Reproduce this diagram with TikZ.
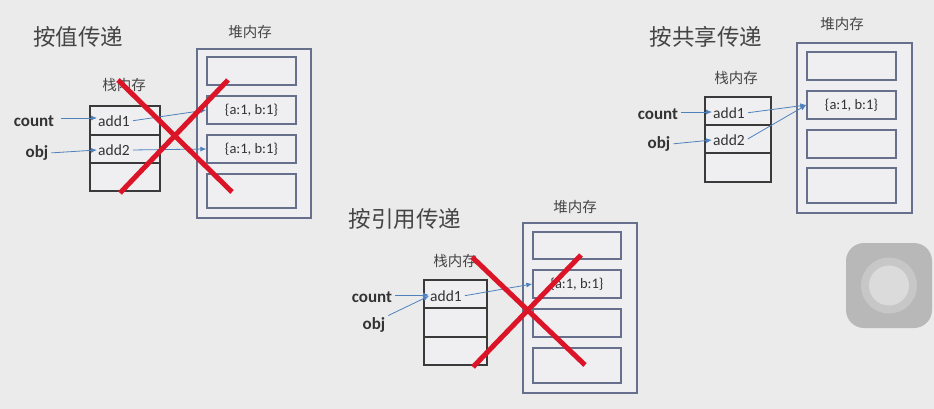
\documentclass[tikz,border=0pt]{standalone}
\usepackage{fontspec}
\setmainfont{Carlito}
\newfontfamily\cjk{Noto Sans CJK SC}
\usetikzlibrary{arrows.meta}
\definecolor{bgc}{HTML}{EBEBEB}
\definecolor{cellc}{HTML}{EFEFF1}
\definecolor{heapc}{HTML}{66708C}
\definecolor{stackc}{HTML}{3A3A3A}
\definecolor{ptrc}{HTML}{4F81BD}
\definecolor{crossc}{HTML}{DC1428}
\definecolor{txtc}{HTML}{333333}
\definecolor{titc}{HTML}{454545}
\tikzset{
  heapouter/.style={draw=heapc, line width=1.5pt, inner sep=0pt, fill=cellc},
  heapcell/.style={draw=heapc, line width=1.3pt, inner sep=0pt, fill=cellc, font=\fontsize{14.5}{16}\selectfont, text=txtc},
  stackcell/.style={draw=stackc, line width=1.3pt, inner sep=0pt, fill=cellc},
  celltxt/.style={anchor=west, inner sep=1pt, font=\fontsize{15.5}{17}\selectfont, text=txtc},
  vartxt/.style={inner sep=1pt, font=\fontsize{17}{19}\selectfont\bfseries, text=txtc},
  titletxt/.style={inner sep=0pt, font=\cjk\fontsize{22.5}{24}\selectfont, text=titc},
  memlbl/.style={inner sep=0pt, font=\cjk\fontsize{14.5}{16}\selectfont, text=titc},
  ptr/.style={-{Latex[length=6pt,width=5pt]}, draw=ptrc, line width=0.8pt, shorten <=2pt},
  crossline/.style={draw=crossc, line width=5pt},
}
\begin{document}
\begin{tikzpicture}[x=1pt,y=-1pt]
\fill[bgc] (0,0) rectangle (934,409);
\useasboundingbox (0,0) rectangle (934,409);

% ---------------- Panel 1: 按值传递 ----------------
\node[titletxt] (title1) at (78,37) {按值传递};
\node[memlbl] (heaplbl1) at (250,32) {堆内存};
\node[heapouter, minimum width=114pt, minimum height=169pt] (heap1) at (254,133.5) {};
\node[heapcell, minimum width=89pt, minimum height=28pt] (h1a) at (251.5,71) {};
\node[heapcell, minimum width=89pt, minimum height=28pt] (h1b) at (251.5,110) {\{a:1, b:1\}};
\node[heapcell, minimum width=89pt, minimum height=28pt] (h1c) at (251.5,149) {\{a:1, b:1\}};
\node[heapcell, minimum width=89pt, minimum height=34pt] (h1d) at (251.5,191) {};
\node[memlbl] (stacklbl1) at (124,85) {栈内存};
\node[stackcell, minimum width=70pt, minimum height=29pt] (s1a) at (125,120.5) {};
\node[stackcell, minimum width=70pt, minimum height=28pt] (s1b) at (125,149) {};
\node[stackcell, minimum width=70pt, minimum height=28pt] (s1c) at (125,177) {};
\node[celltxt] (a1t1) at (97,121) {add1};
\node[celltxt] (a2t1) at (97,150) {add2};
\node[vartxt] (count1) at (34,121) {count};
\node[vartxt] (obj1) at (37,153) {obj};
\draw[ptr] (count1.east) ++(4,-3) coordinate (c1s) -- (a1t1.west |- c1s);
\draw[ptr] (obj1.east) -- (a2t1.west);
\draw[ptr] (a1t1.east) -- (h1b.west);
\draw[ptr] (a2t1.east) -- (h1c.west);
\draw[crossline] (118,80) -- (232,192);
\draw[crossline] (228,80) -- (120,193);

% ---------------- Panel 2: 按共享传递 ----------------
\node[titletxt] (title2) at (706,37) {按共享传递};
\node[memlbl] (heaplbl2) at (842,24) {堆内存};
\node[heapouter, minimum width=115pt, minimum height=170pt] (heap2) at (854.5,128) {};
\node[heapcell, minimum width=89pt, minimum height=28pt] (h2a) at (851.5,66) {};
\node[heapcell, minimum width=89pt, minimum height=28pt] (h2b) at (851.5,105) {\{a:1, b:1\}};
\node[heapcell, minimum width=89pt, minimum height=28pt] (h2c) at (851.5,144) {};
\node[heapcell, minimum width=89pt, minimum height=35pt] (h2d) at (851.5,185.5) {};
\node[memlbl] (stacklbl2) at (736,78) {栈内存};
\node[stackcell, minimum width=66pt, minimum height=28pt] (s2a) at (738,111) {};
\node[stackcell, minimum width=66pt, minimum height=28pt] (s2b) at (738,139) {};
\node[stackcell, minimum width=66pt, minimum height=29pt] (s2c) at (738,167.5) {};
\node[celltxt] (a1t2) at (712,113) {add1};
\node[celltxt] (a2t2) at (712,140) {add2};
\node[vartxt] (count2) at (658,114) {count};
\node[vartxt] (obj2) at (659,144) {obj};
\draw[ptr] (count2.east) ++(0,-2) coordinate (c2s) -- (a1t2.west |- c2s);
\draw[ptr] (obj2.east) -- (a2t2.west);
\draw[ptr] (a1t2.east) -- (h2b.west);
\draw[ptr] (a2t2.east) -- (h2b.west);

% ---------------- Panel 3: 按引用传递 ----------------
\node[titletxt] (title3) at (405,219) {按引用传递};
\node[memlbl] (heaplbl3) at (575,207) {堆内存};
\node[heapouter, minimum width=114pt, minimum height=170pt] (heap3) at (580,308) {};
\node[heapcell, minimum width=88pt, minimum height=27pt] (h3a) at (577,245.5) {};
\node[heapcell, minimum width=88pt, minimum height=28pt] (h3b) at (577,284) {\{a:1, b:1\}};
\node[heapcell, minimum width=88pt, minimum height=28pt] (h3c) at (577,323) {};
\node[heapcell, minimum width=88pt, minimum height=35pt] (h3d) at (577,365.5) {};
\node[memlbl] (stacklbl3) at (455,261) {栈内存};
\node[stackcell, minimum width=63pt, minimum height=28pt] (s3a) at (455.5,294) {};
\node[stackcell, minimum width=63pt, minimum height=29pt] (s3b) at (455.5,322.5) {};
\node[stackcell, minimum width=63pt, minimum height=28pt] (s3c) at (455.5,351) {};
\node[celltxt] (a1t3) at (429,296) {add1};
\node[vartxt] (count3) at (372,297) {count};
\node[vartxt] (obj3) at (374,325) {obj};
\draw[ptr] (count3.east) ++(0,-2) coordinate (c3s) -- (a1t3.west |- c3s);
\draw[ptr] (obj3.north east) -- (a1t3.west);
\draw[ptr] (a1t3.east) -- (h3b.west);
\draw[crossline] (472,257) -- (585,365);
\draw[crossline] (581,255) -- (473,367);

% ---------------- floating button ----------------
\node[fill=black!28, rounded corners=18pt, minimum width=86pt, minimum height=85pt, inner sep=0pt] (btn) at (889,285.5) {};
\node[circle, fill=black!22, minimum size=56pt, inner sep=0pt] (btnring) at (btn.center) {};
\node[circle, fill=black!14, minimum size=40pt, inner sep=0pt] (btndot) at (btn.center) {};
\end{tikzpicture}
\end{document}
